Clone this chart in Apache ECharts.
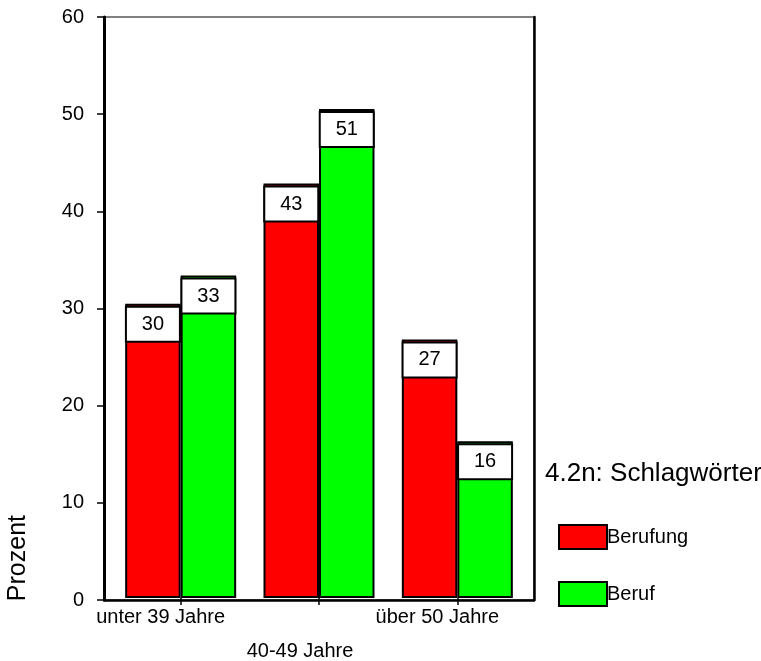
<!DOCTYPE html>
<html><head><meta charset="utf-8">
<script src="https://cdn.jsdelivr.net/npm/echarts@6/dist/echarts.min.js"></script>
<style>html,body{margin:0;padding:0;background:#fff}#c{width:761px;height:661px}</style>
</head><body><div id="c"></div>
<script>
const categories = ['unter 39 Jahre', '40-49 Jahre', 'über 50 Jahre'];
const berufung = [30.4, 42.8, 26.7];
const beruf = [33.3, 50.5, 16.2];
const berufungLabels = ['30', '43', '27'];
const berufLabels = ['33', '51', '16'];
const yTicks = [0, 10, 20, 30, 40, 50, 60];

const font = 'Liberation Sans, Arial, sans-serif';
const chart = echarts.init(document.getElementById('c'), null, {renderer: 'canvas'});

function labelCfg(texts) {
  return {
    show: true, position: 'insideTop', distance: 4,
    formatter: p => texts[p.dataIndex],
    backgroundColor: '#fff', borderColor: '#000', borderWidth: 2,
    width: 52, height: 33, padding: 0, lineHeight: 33,
    align: 'center',
    color: '#000', fontSize: 20, fontFamily: font
  };
}

chart.setOption({
  animation: false,
  textStyle: {fontFamily: font},
  title: {text: '4.2n: Schlagwörter', left: 540, top: 456,
    textStyle: {fontSize: 26, fontWeight: 'normal', color: '#000', fontFamily: font}},
  legend: {orient: 'vertical', left: 553, top: 519, itemWidth: 48, itemHeight: 24, itemGap: 31,
    icon: 'rect', textStyle: {fontSize: 20, color: '#000', fontFamily: font, padding: [0,0,0,-5]},
    itemStyle: {borderColor: '#000', borderWidth: 2},
    data: ['Berufung', 'Beruf']},
  grid: [
    {left: 104, right: 227, top: 17, bottom: 61, show: true, borderColor: '#000', borderWidth: 1, backgroundColor: 'transparent'},
    {left: 111.5, right: 234.5, top: 17, bottom: 61}
  ],
  xAxis: [
    {type: 'category', gridIndex: 0, data: categories,
      axisLine: {lineStyle: {color: '#000', width: 2.5}},
      axisTick: {show: false}, axisLabel: {show: false}},
    {type: 'category', gridIndex: 1,
      data: categories.map((c, i) => ({value: c, textStyle: {padding: i === 1 ? [34, 38, 0, 0] : [0, 40, 0, 0]}})),
      axisLine: {show: false},
      axisTick: {show: true, alignWithLabel: true, length: 7, lineStyle: {color: '#000', width: 1.5}},
      axisLabel: {color: '#000', fontSize: 20, margin: 9, fontFamily: font, interval: 0}}
  ],
  yAxis: [
    {type: 'value', gridIndex: 0, min: 0, max: 60, interval: 10,
      axisLine: {show: true, lineStyle: {color: '#000', width: 3}},
      axisTick: {show: true, length: 7, lineStyle: {color: '#000', width: 1.5}},
      axisLabel: {color: '#000', fontSize: 20, margin: 20, fontFamily: font,
        formatter: v => yTicks.includes(v) ? String(v) : ''},
      splitLine: {show: false}},
    {type: 'value', gridIndex: 0, min: 0, max: 60, interval: 10, position: 'right',
      axisLine: {show: true, lineStyle: {color: '#000', width: 2.5}},
      axisTick: {show: false}, axisLabel: {show: false}, splitLine: {show: false}},
    {type: 'value', gridIndex: 1, min: 0, max: 60, interval: 10, show: false}
  ],
  graphic: [{type: 'text', left: 6, top: 515, rotation: Math.PI / 2,
    style: {text: 'Prozent', fontSize: 25, fill: '#000', fontFamily: font}}],
  series: [
    {name: 'Berufung', type: 'bar', xAxisIndex: 1, yAxisIndex: 2, data: berufung, barWidth: 55.5, barGap: '0%',
      itemStyle: {color: '#ff0000', borderColor: '#000', borderWidth: 2},
      label: labelCfg(berufungLabels)},
    {name: 'Beruf', type: 'bar', xAxisIndex: 1, yAxisIndex: 2, data: beruf, barWidth: 55.5, barGap: '0%',
      itemStyle: {color: '#00ff00', borderColor: '#000', borderWidth: 2},
      label: labelCfg(berufLabels)}
  ]
});
</script></body></html>
